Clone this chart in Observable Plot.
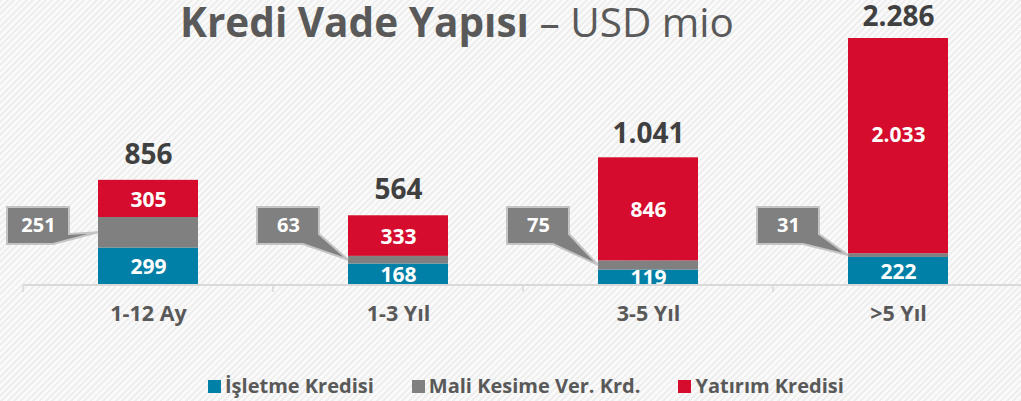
<!DOCTYPE html>
<html>
<head>
<meta charset="utf-8">
<script src="https://cdn.jsdelivr.net/npm/d3@7"></script>
<script src="https://cdn.jsdelivr.net/npm/@observablehq/plot@0.6"></script>
<style>
  html, body { margin: 0; padding: 0; }
  body {
    width: 1021px; height: 401px; overflow: hidden; position: relative;
    font-family: "Open Sans", sans-serif;
    background: repeating-linear-gradient(135deg, #eeeeee 0px, #eeeeee 2px, #fafafa 2px, #fafafa 4.5px);
  }
  #title {
    position: absolute; left: 0; top: 1px; width: 914px; text-align: center;
    font-size: 40.5px; line-height: 41px; color: #595959; white-space: nowrap; z-index: 2;
  }
  #title b { font-weight: 700; }
  #chart { position: absolute; left: 0; top: 0; }
  #legend {
    position: absolute; left: 208px; top: 372px; display: flex; align-items: center;
    font-size: 20px; font-weight: 700; color: #595959; line-height: 28px; white-space: nowrap;
  }
  #legend .item { display: flex; align-items: center; margin-right: 38px; }
  #legend .sw { width: 13px; height: 13px; margin-right: 4px; }
</style>
</head>
<body>
<div id="title"><b>Kredi Vade Yapısı</b> – USD mio</div>
<div id="chart"></div>
<div id="legend"></div>
<script>
// ---- data ----
const categories = ["1-12 Ay", "1-3 Yıl", "3-5 Yıl", ">5 Yıl"];
const seriesNames = ["İşletme Kredisi", "Mali Kesime Ver. Krd.", "Yatırım Kredisi"];
const isletme = [299, 168, 119, 222];
const maliKesime = [251, 63, 75, 31];
const yatirim = [305, 333, 846, 2033];
const totals = [856, 564, 1041, 2286];

// ---- styles ----
const colors = ["#0080a6", "#808080", "#d50c2d"];
const fmt = d3.formatLocale({decimal: ",", thousands: ".", grouping: [3], currency: ["", ""]}).format(",d");

const seriesValues = [isletme, maliKesime, yatirim];
const rows = [];
categories.forEach((c, i) => {
  seriesNames.forEach((s, j) => rows.push({cat: c, series: s, value: seriesValues[j][i]}));
});
const totalRows = categories.map((c, i) => ({cat: c, total: totals[i]}));
const calloutRows = categories.map((c, i) => ({cat: c, value: maliKesime[i], base: isletme[i]}));
const calloutLevel = 480;   // vertical anchor of callout boxes (value units)
const totalOffset = 135;    // total labels sit this far above the bar (value units)

const ns = "http://www.w3.org/2000/svg";
function bw(x) { return typeof x.bandwidth === "function" ? x.bandwidth() : x.bandwidth; }

// axis baseline + band-edge ticks
const axisMark = (index, scales) => {
  const x = scales.x, y = scales.y;
  const b = bw(x);
  const step = x(categories[1]) - x(categories[0]);
  const g = document.createElementNS(ns, "g");
  const y0 = y(0);
  const line = document.createElementNS(ns, "line");
  const left = x(categories[0]) - (step - b) / 2;
  line.setAttribute("x1", left); line.setAttribute("x2", 1021);
  line.setAttribute("y1", y0 + 1); line.setAttribute("y2", y0 + 1);
  line.setAttribute("stroke", "#d9d9d9"); line.setAttribute("stroke-width", 2);
  g.appendChild(line);
  categories.forEach(c => {
    const xe = x(c) - (step - b) / 2;
    const t = document.createElementNS(ns, "line");
    t.setAttribute("x1", xe); t.setAttribute("x2", xe);
    t.setAttribute("y1", y0 + 1); t.setAttribute("y2", y0 + 8);
    t.setAttribute("stroke", "#d9d9d9"); t.setAttribute("stroke-width", 1.5);
    g.appendChild(t);
  });
  return g;
};

// callout shapes for the grey series
const calloutMark = (index, scales) => {
  const x = scales.x, y = scales.y;
  const g = document.createElementNS(ns, "g");
  calloutRows.forEach(d => {
    const xl = x(d.cat);
    const tipY = y(d.base + d.value / 2);
    const cy = y(calloutLevel);
    const R = xl - 29, L = R - 62, T = cy - 18.5, B = cy + 18.5;
    const p = document.createElementNS(ns, "path");
    p.setAttribute("d", `M${L},${T}H${R}V${B - 10}L${xl},${tipY}L${R - 16},${B}H${L}Z`);
    p.setAttribute("fill", "#808080");
    p.setAttribute("stroke", "#c4c4c4");
    p.setAttribute("stroke-width", 2);
    p.setAttribute("stroke-linejoin", "miter");
    g.appendChild(p);
  });
  return g;
};

const plot = Plot.plot({
  width: 1021,
  height: 350,
  marginTop: 0, marginBottom: 0, marginLeft: 0, marginRight: 0,
  style: {background: "transparent", fontFamily: "Open Sans, sans-serif", overflow: "visible"},
  x: {domain: categories, range: [22, 1023], paddingInner: 0.6, paddingOuter: 0.3, axis: null},
  y: {type: "linear", domain: [0, 1100, 2286], range: [284, 150, 38], axis: null},
  color: {domain: seriesNames, range: colors},
  marks: [
    Plot.barY(rows, Plot.stackY({x: "cat", y: "value", z: "series", fill: "series"})),
    Plot.text(rows, Plot.stackY({
      x: "cat", y: "value", z: "series",
      text: d => d.series === seriesNames[1] ? null : fmt(d.value),
      fill: "white", fontSize: 21, fontWeight: "bold", dy: 1
    })),
    axisMark,
    Plot.text(categories, {x: d => d, y: () => 0, text: d => d, dy: 30, fontSize: 21.5, fontWeight: "bold", fill: "#595959"}),
    Plot.text(totalRows, {x: "cat", y: d => d.total + totalOffset, text: d => fmt(d.total), lineAnchor: "bottom", fontSize: 28, fontWeight: "bold", fill: "#404040"}),
    calloutMark,
    Plot.text(calloutRows, {x: "cat", y: () => calloutLevel, text: d => fmt(d.value), dx: -110, fontSize: 20, fontWeight: "bold", fill: "white"})
  ]
});
document.getElementById("chart").appendChild(plot);

// legend
const legend = document.getElementById("legend");
seriesNames.forEach((s, i) => {
  const item = document.createElement("div");
  item.className = "item";
  const sw = document.createElement("div");
  sw.className = "sw"; sw.style.background = colors[i];
  const t = document.createElement("span");
  t.textContent = s;
  item.appendChild(sw); item.appendChild(t);
  legend.appendChild(item);
});
</script>
</body>
</html>
